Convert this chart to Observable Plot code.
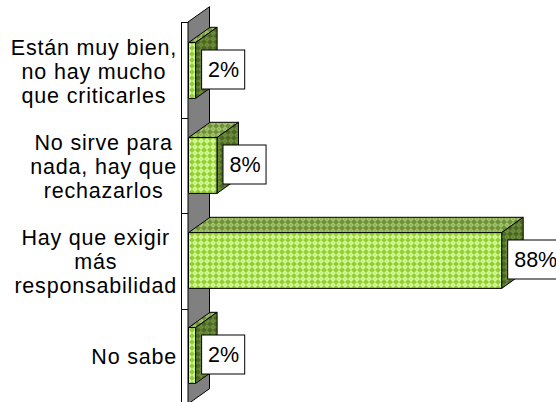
<!DOCTYPE html>
<html>
<head>
<meta charset="utf-8">
<script src="https://cdn.jsdelivr.net/npm/d3@7"></script>
<script src="https://cdn.jsdelivr.net/npm/@observablehq/plot@0.6"></script>
<style>
  html, body { margin: 0; padding: 0; background: #fff; }
  #chart svg { display: block; }
</style>
</head>
<body>
<div id="chart"></div>
<script>
// ---- data ----
const categories = [
  "Están muy bien,\nno hay mucho\nque criticarles",
  "No sirve para\nnada, hay que\nrechazarlos",
  "Hay que exigir\nmás\nresponsabilidad",
  "No sabe"
];
const values = [2, 8, 88, 2];
const valueLabels = ["2%", "8%", "88%", "2%"];

const data = categories.map((c, i) => ({cat: c, value: values[i], label: valueLabels[i]}));

// ---- layout constants ----
const W = 556, H = 404, ML = 188.5, MT = 22, MR = 11.6;
const DX = 21.5, DY = -15.3;       // 3D depth offset
const INSET = 19.6;
const FS = 21.5;
const LS = 0.8;                    // letter spacing of category labels
const FONT = '"Liberation Sans", Arial, sans-serif';
const NS = "http://www.w3.org/2000/svg";

const cv = document.createElement("canvas").getContext("2d");
cv.font = `${FS}px "Liberation Sans"`;
const textW = (s, ls = 0) => Math.max(...s.split("\n").map(l => cv.measureText(l).width + ls * l.length));

function el(tag, attrs, parent) {
  const e = document.createElementNS(NS, tag);
  for (const k in attrs) e.setAttribute(k, attrs[k]);
  if (parent) parent.appendChild(e);
  return e;
}
function poly(pts, fill, parent) {
  return el("polygon", {points: pts.map(p => p.join(",")).join(" "), fill, stroke: "#000", "stroke-width": 1, "stroke-linejoin": "miter"}, parent);
}
function pattern(defs, id, bg, fg) {
  const p = el("pattern", {id, width: 6, height: 6, patternUnits: "userSpaceOnUse"}, defs);
  el("rect", {width: 6, height: 6, fill: bg}, p);
  el("path", {d: "M3,0L6,3L3,6L0,3Z", fill: fg}, p);
  el("rect", {x: 2.5, y: 2.5, width: 1, height: 1, fill: bg}, p);
}

function bar3d(index, scales, vals, dims, context, next) {
  const g = next(index, scales, vals, dims, context);
  const rects = [...g.querySelectorAll("rect")];
  const out = el("g", {});
  const defs = el("defs", {}, out);
  pattern(defs, "pf", "#99cc33", "#d2ff9c");
  pattern(defs, "pt", "#6f8f3a", "#a2c46a");
  pattern(defs, "ps", "#4b6725", "#6f9039");

  const top = dims.marginTop, bottom = dims.height - dims.marginBottom;
  const n = categories.length, bw = (bottom - top) / n;
  const x0 = dims.marginLeft - 0.5;

  // back wall
  poly([[x0, top], [x0 + DX, top + DY], [x0 + DX, bottom + DY], [x0, bottom]], "#808080", out);
  // axis line and ticks at band boundaries
  el("line", {x1: 181.5, x2: 181.5, y1: top, y2: bottom, stroke: "#000"}, out);
  for (let k = 0; k <= n; k++) {
    const y = Math.round(top + k * bw) + 0.5;
    el("line", {x1: 181.5, x2: x0, y1: y, y2: y, stroke: "#000"}, out);
  }

  // bars
  const boxes = [];
  rects.forEach((r, k) => {
    const x = +r.getAttribute("x"), y = +r.getAttribute("y");
    const w = +r.getAttribute("width"), h = +r.getAttribute("height");
    const xa = x, xb = x + w, ya = y, yb = y + h;
    poly([[xa, ya], [xb, ya], [xb + DX, ya + DY], [xa + DX, ya + DY]], "url(#pt)", out);
    poly([[xb, ya], [xb + DX, ya + DY], [xb + DX, yb + DY], [xb, yb]], "url(#ps)", out);
    poly([[xa, ya], [xb, ya], [xb, yb], [xa, yb]], "url(#pf)", out);
    boxes.push({xb, yc: (ya + yb) / 2, d: data[index[k]]});
  });
  // label boxes
  for (const b of boxes) {
    const w = textW(b.d.label) + 12;
    el("rect", {x: b.xb + 6, y: b.yc - 1 - 19.5, width: w, height: 39, fill: "#fff", stroke: "#000", "stroke-width": 1}, out);
  }
  return out;
}

const spaced = (index, scales, vals, dims, context, next) => {
  const g = next(index, scales, vals, dims, context);
  g.setAttribute("letter-spacing", LS);
  return g;
};

const catMarks = categories.map(c =>
  Plot.text([c], {
    y: d => d, text: d => d, frameAnchor: "left", textAnchor: "middle",
    dx: (176.5 - textW(c, LS) / 2) - ML, lineHeight: 1.12, fontSize: FS, fill: "#000",
    render: spaced
  })
);

const chart = Plot.plot({
  width: W, height: H,
  marginLeft: ML, marginTop: MT, marginRight: MR, marginBottom: 0,
  style: {fontFamily: FONT, background: "#fff", overflow: "visible"},
  x: {domain: [0, 100], axis: null},
  y: {domain: categories, padding: 0, axis: null},
  marks: [
    Plot.barX(data, {x: "value", y: "cat", insetTop: INSET, insetBottom: INSET, fill: "#b3e066", render: bar3d}),
    Plot.text(data, {x: "value", y: "cat", text: "label", textAnchor: "start", dx: 12, dy: -1, fontSize: FS, fill: "#000"}),
    ...catMarks
  ]
});
document.getElementById("chart").appendChild(chart);
</script>
</body>
</html>
